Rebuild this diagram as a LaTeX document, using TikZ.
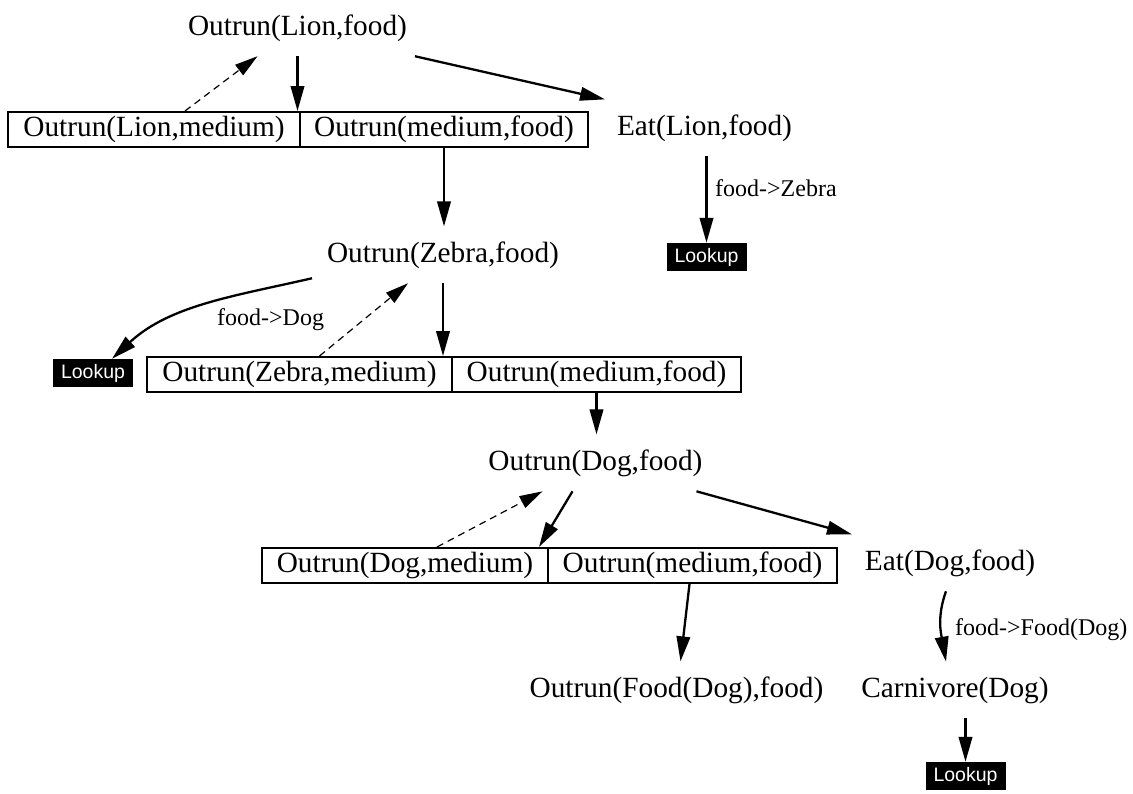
\documentclass[tikz,border=0pt]{standalone}
\usepackage{fontspec}
\setmainfont{Liberation Serif}
\newfontfamily\lkfont{Liberation Sans}
\usetikzlibrary{arrows.meta}

\begin{document}
\begin{tikzpicture}[x=1pt,y=-1pt,
  term/.style={font=\fontsize{29.3}{32}\selectfont, inner sep=0pt, outer xsep=0pt, outer ysep=15pt, anchor=base},
  cell/.style={draw, line width=2pt, font=\fontsize{29.3}{32}\selectfont, minimum height=35pt, inner sep=0pt},
  lbl/.style={font=\fontsize{24}{28}\selectfont, inner sep=0pt, anchor=base west},
  lookup/.style={fill=black, text=white, font=\lkfont\fontsize{19.5}{21}\selectfont, minimum width=80pt, minimum height=28pt, inner sep=0pt},
  arr/.style={-{Triangle[length=25pt,width=13.5pt]}, line width=2.3pt},
  back/.style={-{Triangle[length=23pt,width=13pt]}, line width=1.2pt, dash pattern=on 7pt off 5pt}]
  \useasboundingbox (0,0) rectangle (1133,793);

  \node[term] (lion) at (297.5,35) {Outrun(Lion,food)};
  \node[term] (eatlion) at (704.5,135) {Eat(Lion,food)};
  \node[term] (zebra) at (443,262) {Outrun(Zebra,food)};
  \node[term] (dog) at (595.5,470) {Outrun(Dog,food)};
  \node[term] (eatdog) at (950,570) {Eat(Dog,food)};
  \node[term] (fooddog) at (676.5,697) {Outrun(Food(Dog),food)};
  \node[term] (carni) at (955,697) {Carnivore(Dog)};

  \node[cell, minimum width=292pt] (b1l) at (154,129.5) {Outrun(Lion,medium)};
  \node[cell, minimum width=288pt] (b1r) at (444,129.5) {Outrun(medium,food)};
  \node[cell, minimum width=305pt] (b2l) at (299.5,374.5) {Outrun(Zebra,medium)};
  \node[cell, minimum width=289pt] (b2r) at (596.5,374.5) {Outrun(medium,food)};
  \node[cell, minimum width=286pt] (b3l) at (405,565.5) {Outrun(Dog,medium)};
  \node[cell, minimum width=289pt] (b3r) at (692.5,565.5) {Outrun(medium,food)};

  \node[lookup] (lk1) at (706.5,257) {Lookup};
  \node[lookup] (lk2) at (93,373) {Lookup};
  \node[lookup] (lk3) at (965.5,776) {Lookup};

  \node[lbl] (zebratag) at (715,196) {food->Zebra};
  \node[lbl] (dogtag) at (217,325) {food->Dog};
  \node[lbl] (fdtag) at (955,635) {food->Food(Dog)};

  % Lion
  \draw[arr] (lion.south) -- (lion.south |- b1l.north);
  \draw[back] ([xshift=31pt]b1l.north) -- ([xshift=-40pt]lion.south);
  \draw[arr] ([xshift=8pt]lion.south east) -- ([xshift=-12pt]eatlion.north west);
  \draw[arr] (lk1.north |- eatlion.south) -- (lk1.north);
  \draw[arr] (b1r.south) -- (b1r.south |- zebra.north);

  % Zebra
  \draw[arr] (zebra.south) -- (zebra.south |- b2l.north);
  \draw[back] ([xshift=20pt]b2l.north) -- ([xshift=-35pt]zebra.south);
  \draw[arr] ([xshift=-15pt,yshift=5pt]zebra.south west) .. controls (235,296) and (170,305) .. ([xshift=19pt]lk2.north);
  \draw[arr] (b2r.south) -- (b2r.south |- dog.north);

  % Dog
  \draw[back] ([xshift=32pt]b3l.north) -- ([xshift=-53pt]dog.south);
  \draw[arr] ([xshift=-23pt]dog.south) -- ([xshift=-10pt]b3l.north east);
  \draw[arr] ([xshift=-6pt]dog.south east) -- ([xshift=-13pt]eatdog.north west);
  \draw[arr] ([xshift=-3pt]b3r.south) -- ([xshift=4pt]fooddog.north);
  \draw[arr] ([xshift=-4pt]eatdog.south) to[out=250,in=100] ([xshift=-9pt]carni.north);
  \draw[arr] (lk3.north |- carni.south) -- (lk3.north);
\end{tikzpicture}
\end{document}
